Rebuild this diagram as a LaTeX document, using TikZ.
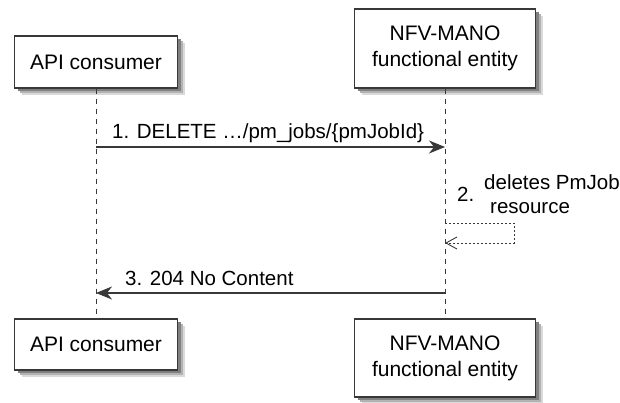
\documentclass[tikz,border=0pt]{standalone}
\usepackage{fontspec}
\setmainfont{Liberation Sans}
\usetikzlibrary{arrows.meta}
\definecolor{linegray}{HTML}{383838}
\tikzset{
    party/.style={draw=linegray, line width=1.3pt, fill=white, align=center, inner sep=0pt,
        font=\fontsize{21}{26}\selectfont},
    life/.style={draw=linegray, line width=0.8pt, dash pattern=on 5pt off 5pt},
    msg/.style={draw=linegray, line width=1.1pt, -{Stealth[length=16pt,width=13pt,inset=5pt]}},
    selfmsg/.style={draw=linegray, line width=0.8pt, dash pattern=on 2pt off 2pt,
        -{Straight Barb[length=11pt,width=12pt,line width=0.9pt]}},
    txt/.style={font=\fontsize{20.5}{23}\selectfont, inner sep=0pt}
}
\begin{document}
\begin{tikzpicture}[x=1pt,y=-1pt]
    \useasboundingbox (0,0) rectangle (620,403);
    \foreach \s/\c in {7/15,5/30,3/50}
    {
        \fill[black!\c] (14.5+\s,36+\s) rectangle (177.5+\s,88+\s);
        \fill[black!\c] (354.5+\s,9+\s) rectangle (535.5+\s,88+\s);
        \fill[black!\c] (14.5+\s,319+\s) rectangle (177.5+\s,370+\s);
        \fill[black!\c] (354.5+\s,319+\s) rectangle (535.5+\s,397+\s);
    }
    \node[party, minimum width=163pt, minimum height=52pt] (apitop) at (96,62) {API consumer};
    \node[party, minimum width=181pt, minimum height=79pt] (nfvtop) at (445,48.5) {NFV-MANO\\functional entity};
    \node[party, minimum width=163pt, minimum height=51pt] (apibot) at (96,344.5) {API consumer};
    \node[party, minimum width=181pt, minimum height=78pt] (nfvbot) at (445,358) {NFV-MANO\\functional entity};
    \draw[life] (apitop.south) -- (apibot.north);
    \draw[life] (nfvtop.south) -- (nfvbot.north);
    \coordinate (m1s) at (apitop.south |- 0,147);
    \coordinate (m1e) at (nfvtop.south |- 0,147);
    \coordinate (m2s) at (nfvtop.south |- 0,223);
    \coordinate (m2e) at (nfvtop.south |- 0,243);
    \coordinate (m3s) at (nfvtop.south |- 0,293);
    \coordinate (m3e) at (apitop.south |- 0,293);
    \draw[msg] (m1s) -- (m1e);
    \node[txt, anchor=base west] (l1) at (112,139) {1. DELETE …/pm\_jobs/\{pmJobId\}};
    \draw[selfmsg] (m2s) -- (514,223) -- (514,243) -- (m2e);
    \node[txt, anchor=base west] (l2n) at (457,201) {2.};
    \node[txt, anchor=base west] (l2a) at (484,190) {deletes PmJob};
    \node[txt, anchor=base west] (l2b) at (490,213) {resource};
    \draw[msg] (m3s) -- (m3e);
    \node[txt, anchor=base west] (l3) at (125,285) {3. 204 No Content};
\end{tikzpicture}
\end{document}
